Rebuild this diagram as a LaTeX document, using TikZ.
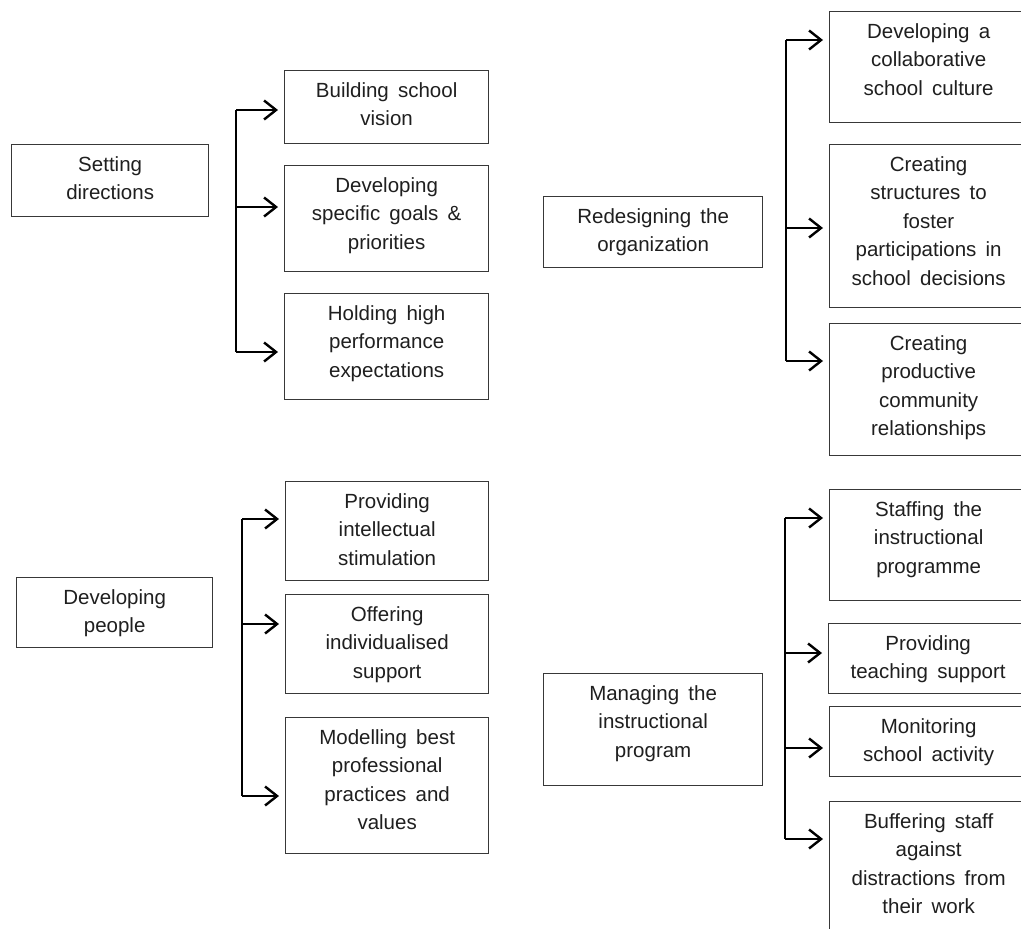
\documentclass[tikz,border=0pt]{standalone}
\usepackage{fontspec}
\setmainfont{Liberation Sans}
\usetikzlibrary{arrows.meta}
\newcommand\widespaces{\spaceskip=0.45em plus 0.1em\relax}
\begin{document}
\begin{tikzpicture}[x=1pt,y=-1pt,
  box/.style={draw=black!78, line width=1.3pt, anchor=north west, inner sep=0pt, fill=none},
  txt/.style={anchor=north, inner sep=0pt, align=center, text=black!88,
    font=\fontsize{20.5}{28.5}\selectfont, execute at begin node=\widespaces},
  conn/.style={line width=2.5pt, black, line join=miter, shorten >=6pt,
    -{Straight Barb[length=12pt, width=19pt, line width=2.4pt]}},
  bar/.style={line width=2.5pt, black}]
\useasboundingbox (0,0) rectangle (1021,929);
\clip (0,0) rectangle (1021,929);
\fill[white] (0,0) rectangle (1021,929);

% ---------- boxes ----------
\node[box, minimum width=197pt, minimum height=72pt] (P1) at (11,144) {};
\node[box, minimum width=196pt, minimum height=70pt] (P2) at (16,577) {};
\node[box, minimum width=219pt, minimum height=71pt] (P3) at (543,196) {};
\node[box, minimum width=219pt, minimum height=112pt] (P4) at (543,673) {};

\node[box, minimum width=204pt, minimum height=73pt] (A1) at (284,70) {};
\node[box, minimum width=204pt, minimum height=106pt] (A2) at (284,165) {};
\node[box, minimum width=204pt, minimum height=106pt] (A3) at (284,293) {};

\node[box, minimum width=203pt, minimum height=99pt] (B1) at (285,481) {};
\node[box, minimum width=203pt, minimum height=99pt] (B2) at (285,594) {};
\node[box, minimum width=203pt, minimum height=136pt] (B3) at (285,717) {};

\node[box, minimum width=198pt, minimum height=111pt] (C1) at (829,11) {};
\node[box, minimum width=198pt, minimum height=163pt] (C2) at (829,144) {};
\node[box, minimum width=198pt, minimum height=132pt] (C3) at (829,323) {};

\node[box, minimum width=198pt, minimum height=111pt] (D1) at (829,489) {};
\node[box, minimum width=199pt, minimum height=70pt] (D2) at (828,623) {};
\node[box, minimum width=198pt, minimum height=70pt] (D3) at (829,706) {};
\node[box, minimum width=198pt, minimum height=160pt] (D4) at (829,801) {};

% ---------- texts ----------
\node[txt] (tP1) at ([yshift=-12pt]P1.north) {Setting\\directions};
\node[txt] (tP2) at ([yshift=-12pt]P2.north) {Developing\\people};
\node[txt] (tP3) at ([yshift=-12pt]P3.north) {Redesigning the\\organization};
\node[txt] (tP4) at ([yshift=-12pt]P4.north) {Managing the\\instructional\\program};

\node[txt] (tA1) at ([yshift=-12pt]A1.north) {Building school\\vision};
\node[txt] (tA2) at ([yshift=-12pt]A2.north) {Developing\\specific goals \&\\priorities};
\node[txt] (tA3) at ([yshift=-12pt]A3.north) {Holding high\\performance\\expectations};

\node[txt] (tB1) at ([yshift=-12pt]B1.north) {Providing\\intellectual\\stimulation};
\node[txt] (tB2) at ([yshift=-12pt]B2.north) {Offering\\individualised\\support};
\node[txt] (tB3) at ([yshift=-12pt]B3.north) {Modelling best\\professional\\practices and\\values};

\node[txt] (tC1) at ([yshift=-12pt]C1.north) {Developing a\\collaborative\\school culture};
\node[txt] (tC2) at ([yshift=-12pt]C2.north) {Creating\\structures to\\foster\\participations in\\school decisions};
\node[txt] (tC3) at ([yshift=-12pt]C3.north) {Creating\\productive\\community\\relationships};

\node[txt] (tD1) at ([yshift=-12pt]D1.north) {Staffing the\\instructional\\programme};
\node[txt] (tD2) at ([yshift=-12pt]D2.north) {Providing\\teaching support};
\node[txt] (tD3) at ([yshift=-12pt]D3.north) {Monitoring\\school activity};
\node[txt] (tD4) at ([yshift=-12pt]D4.north) {Buffering staff\\against\\distractions from\\their work};

% ---------- bar coordinates ----------
\coordinate (a1) at (236,110);
\coordinate (a2) at (236,207);
\coordinate (a3) at (236,352);
\coordinate (b1) at (242,519);
\coordinate (b2) at (242,624);
\coordinate (b3) at (242,796);
\coordinate (c1) at (786,40);
\coordinate (c2) at (786,228);
\coordinate (c3) at (786,361);
\coordinate (d1) at (785,518);
\coordinate (d2) at (785,653);
\coordinate (d3) at (785,748);
\coordinate (d4) at (785,839);

% ---------- connectors ----------
\draw[bar] (a1) -- (a3);
\draw[conn] (a1) -- (A1.west |- a1);
\draw[conn] (a2) -- (A2.west |- a2);
\draw[conn] (a3) -- (A3.west |- a3);

\draw[bar] (b1) -- (b3);
\draw[conn] (b1) -- (B1.west |- b1);
\draw[conn] (b2) -- (B2.west |- b2);
\draw[conn] (b3) -- (B3.west |- b3);

\draw[bar] (c1) -- (c3);
\draw[conn] (c1) -- (C1.west |- c1);
\draw[conn] (c2) -- (C2.west |- c2);
\draw[conn] (c3) -- (C3.west |- c3);

\draw[bar] (d1) -- (d4);
\draw[conn] (d1) -- (D1.west |- d1);
\draw[conn] (d2) -- (D2.west |- d2);
\draw[conn] (d3) -- (D3.west |- d3);
\draw[conn] (d4) -- (D4.west |- d4);
\end{tikzpicture}
\end{document}
